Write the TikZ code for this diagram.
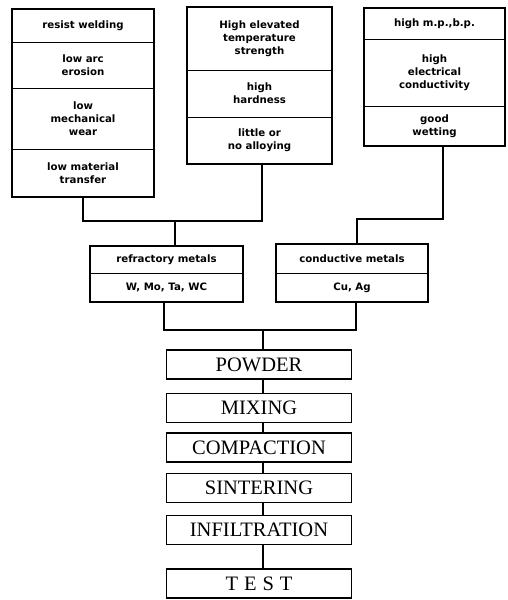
\documentclass[tikz,border=0pt]{standalone}
\usepackage{fontspec}
\setmainfont{Liberation Serif}
\newfontfamily\smallsans{DejaVu Sans}
\begin{document}
\begin{tikzpicture}[x=1pt,y=-1pt,
  box/.style={draw,line width=1.2pt,inner sep=0pt},
  div/.style={line width=0.8pt},
  lbl/.style={font=\smallsans\bfseries\fontsize{10.2}{13}\selectfont,align=center,inner sep=0pt},
  proc/.style={draw,line width=1.3pt,minimum width=185pt,minimum height=29pt,inner sep=0pt,font=\fontsize{20.5}{22}\selectfont},
  wire/.style={line width=1.1pt}]
\useasboundingbox (0,0) rectangle (507,600);
% left property box
\node[box,minimum width=142pt,minimum height=188pt] (L) at (83,103) {};
\draw[div] (L.west |- 0,42) -- (L.east |- 0,42);
\draw[div] (L.west |- 0,88) -- (L.east |- 0,88);
\draw[div] (L.west |- 0,149) -- (L.east |- 0,149);
\node[lbl] (l1) at (83,25.5) {resist welding};
\node[lbl] (l2) at (83,65) {low arc\\erosion};
\node[lbl] (l3) at (83,118.5) {low\\mechanical\\wear};
\node[lbl] (l4) at (83,173) {low material\\transfer};
% middle property box
\node[box,minimum width=145pt,minimum height=157pt] (M) at (259.5,85.5) {};
\draw[div] (M.west |- 0,70) -- (M.east |- 0,70);
\draw[div] (M.west |- 0,117) -- (M.east |- 0,117);
\node[lbl] (m1) at (259.5,38.5) {High elevated\\temperature\\strength};
\node[lbl] (m2) at (259.5,93.5) {high\\hardness};
\node[lbl] (m3) at (259.5,140.5) {little or\\no alloying};
% right property box
\node[box,minimum width=141pt,minimum height=138pt] (RB) at (434.5,77) {};
\draw[div] (RB.west |- 0,39) -- (RB.east |- 0,39);
\draw[div] (RB.west |- 0,106) -- (RB.east |- 0,106);
\node[lbl] (r1) at (434.5,23.5) {high m.p.,b.p.};
\node[lbl] (r2) at (434.5,72.5) {high\\electrical\\conductivity};
\node[lbl] (r3) at (434.5,126) {good\\wetting};
% metal boxes
\node[box,minimum width=153pt,minimum height=56pt] (R) at (166.5,274) {};
\draw[div] (R.west |- 0,273) -- (R.east |- 0,273);
\node[lbl] (rt) at (166.5,259.5) {refractory metals};
\node[lbl] (rb) at (166.5,287.5) {W, Mo, Ta, WC};
\node[box,minimum width=152pt,minimum height=58pt] (C) at (352,273) {};
\draw[div] (C.west |- 0,273) -- (C.east |- 0,273);
\node[lbl] (ct) at (352,258.5) {conductive metals};
\node[lbl] (cb) at (352,287.5) {Cu, Ag};
% connectors above metal boxes
\coordinate (j1) at (175,221);
\coordinate (j2) at (443,219);
\coordinate (j2b) at (357,219);
\draw[wire] (L.south) |- (j1);
\draw[wire] (M.south -| 262,0) |- (j1);
\draw[wire] (j1) -- (R.north -| j1);
\draw[wire] (RB.south -| j2) -- (j2) -- (j2b) -- (C.north -| j2b);
% process boxes
\node[proc] (p1) at (259,364.5) {POWDER};
\node[proc] (p2) at (259,408) {MIXING};
\node[proc] (p3) at (259,447.5) {COMPACTION};
\node[proc] (p4) at (259,488) {SINTERING};
\node[proc] (p5) at (259,530) {INFILTRATION};
\node[proc] (p6) at (259,583.5) {T\hspace{6pt}E\hspace{6pt}S\hspace{6pt}T};
% connectors below metal boxes
\coordinate (j3) at (263,330);
\draw[wire] (R.south -| 164,0) |- (j3);
\draw[wire] (C.south -| 356,0) |- (j3);
\draw[wire] (j3) -- (p1.north -| j3);
\draw[wire] (p1.south -| j3) -- (p2.north -| j3);
\draw[wire] (p2.south -| j3) -- (p3.north -| j3);
\draw[wire] (p3.south -| j3) -- (p4.north -| j3);
\draw[wire] (p4.south -| j3) -- (p5.north -| j3);
\draw[wire] (p5.south -| j3) -- (p6.north -| j3);
\end{tikzpicture}
\end{document}
